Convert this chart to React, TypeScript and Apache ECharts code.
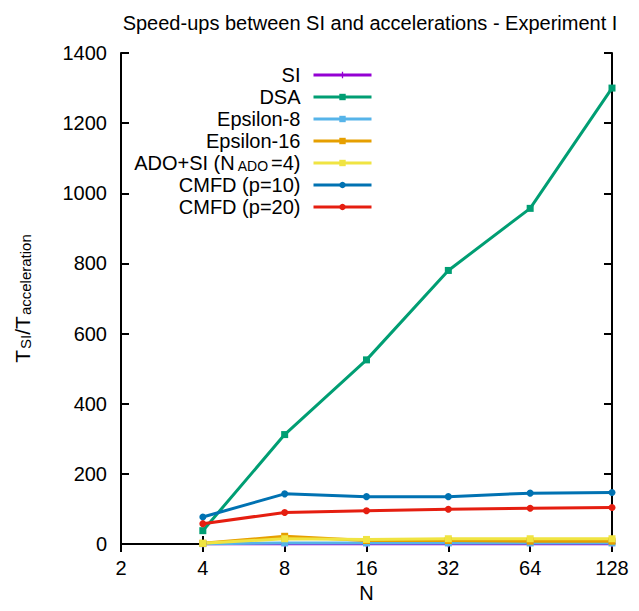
import React, { useEffect, useRef } from "react";
import * as echarts from "echarts";

const N = [4, 8, 16, 32, 64, 128];
const SI = [1, 1, 1, 1, 1, 1];
const DSA = [38, 312, 525, 780, 957, 1300];
const EPS8 = [1, 3, 3, 3, 3, 3];
const EPS16 = [2, 22, 10, 10, 8, 8];
const ADO = [2, 15, 13, 15, 15, 15];
const CMFD10 = [77, 143, 135, 135, 145, 147];
const CMFD20 = [58, 90, 95, 99, 102, 104];
const Y_TICKS = { min: 0, max: 1400, interval: 200 };

const plusPath =
  "path://M4,0 L6,0 L6,4 L10,4 L10,6 L6,6 L6,10 L4,10 L4,6 L0,6 L0,4 L4,4 Z";

const SERIES = [
  { name: "SI", data: SI, color: "#9400d3", symbol: plusPath },
  { name: "DSA", data: DSA, color: "#009e73", symbol: "rect" },
  { name: "Epsilon-8", data: EPS8, color: "#56b4e9", symbol: "rect" },
  { name: "Epsilon-16", data: EPS16, color: "#e69f00", symbol: "rect" },
  { name: "ADO+SI (N_ADO=4)", data: ADO, color: "#f0e442", symbol: "rect" },
  { name: "CMFD (p=10)", data: CMFD10, color: "#0072b2", symbol: "circle" },
  { name: "CMFD (p=20)", data: CMFD20, color: "#e51e10", symbol: "circle" },
];

const FONT = "Liberation Sans, Arial, sans-serif";

export default function App() {
  const ref = useRef<HTMLDivElement>(null);
  useEffect(() => {
    document.body.style.margin = "0";
    if (!ref.current) return;
    const chart = echarts.init(ref.current, undefined, { renderer: "svg" });
    const axisCommon = {
      type: "log" as const,
      logBase: 2,
      min: 2,
      max: 128,
      splitNumber: 6,
      splitLine: { show: false },
      axisLine: { show: true, lineStyle: { color: "#000", width: 2 } },
      axisTick: { show: true, inside: true, length: 8, lineStyle: { color: "#000", width: 2 } },
    };
    const yCommon = {
      type: "value" as const,
      ...Y_TICKS,
      splitLine: { show: false },
      axisLine: { show: true, lineStyle: { color: "#000", width: 2 } },
      axisTick: { show: true, inside: true, length: 8, lineStyle: { color: "#000", width: 2 } },
    };
    chart.setOption({
      animation: false,
      backgroundColor: "#fff",
      textStyle: { fontFamily: FONT },
      title: {
        text: "Speed-ups between SI and accelerations - Experiment I",
        left: 365,
        textAlign: "center",
        top: 8,
        textStyle: { fontFamily: FONT, fontSize: 20, fontWeight: "normal", color: "#000" },
      },
      grid: { left: 121, right: 27, top: 53, bottom: 67 },
      legend: {
        orient: "vertical",
        align: "right",
        right: 261,
        top: 60,
        itemWidth: 58,
        itemHeight: 8,
        itemGap: 2,
        selectedMode: false,
        lineStyle: { width: 3 },
        data: SERIES.map((s) => s.name),
        formatter: (name: string) =>
          name === "ADO+SI (N_ADO=4)"
            ? "{a|ADO+SI (N}{b|ADO}{c|=4)}"
            : "{c|" + name + "}",
        textStyle: {
          fontFamily: FONT,
          fontSize: 20,
          color: "#000",
          rich: {
            a: { fontFamily: FONT, fontSize: 20, color: "#000", verticalAlign: "bottom", lineHeight: 20 },
            b: { fontFamily: FONT, fontSize: 14, color: "#000", verticalAlign: "bottom", lineHeight: 12, padding: [0, 3, 0, 3] },
            c: { fontFamily: FONT, fontSize: 20, color: "#000", verticalAlign: "bottom", lineHeight: 20, padding: [0, 8, 0, 0] },
          },
        },
      },
      xAxis: [
        {
          ...axisCommon,
          position: "bottom",
          name: "N",
          nameLocation: "middle",
          nameGap: 29,
          nameTextStyle: { fontFamily: FONT, fontSize: 20, color: "#000" },
          axisLabel: {
            show: true,
            margin: 14,
            fontFamily: FONT,
            fontSize: 20,
            color: "#000",
            formatter: (v: number) => String(Math.round(v)),
          },
        },
        { ...axisCommon, position: "top", axisLabel: { show: false } },
      ],
      yAxis: [
        {
          ...yCommon,
          position: "left",
          name: "{a|T}{b|SI}{a|/T}{b|acceleration}",
          nameLocation: "middle",
          nameRotate: 90,
          nameGap: 88,
          nameTextStyle: {
            fontFamily: FONT,
            color: "#000",
            rich: {
              a: { fontFamily: FONT, fontSize: 21, color: "#000", verticalAlign: "bottom", lineHeight: 24 },
              b: { fontFamily: FONT, fontSize: 15, color: "#000", verticalAlign: "bottom", lineHeight: 15, padding: [0, 0, 0, 1] },
            },
          },
          axisLabel: {
            show: true,
            margin: 14,
            fontFamily: FONT,
            fontSize: 20,
            color: "#000",
            formatter: (v: number) => String(v),
          },
        },
        { ...yCommon, position: "right", axisLabel: { show: false } },
      ],
      series: SERIES.map((s) => ({
        name: s.name,
        type: "line",
        xAxisIndex: 0,
        yAxisIndex: 0,
        data: N.map((n, i) => [n, s.data[i]]),
        symbol: s.symbol,
        symbolSize: 7,
        showAllSymbol: true,
        clip: false,
        color: s.color,
        lineStyle: { color: s.color, width: 3 },
        itemStyle: { color: s.color },
      })),
    });
    return () => chart.dispose();
  }, []);
  return <div ref={ref} style={{ width: 639, height: 611 }} />;
}
